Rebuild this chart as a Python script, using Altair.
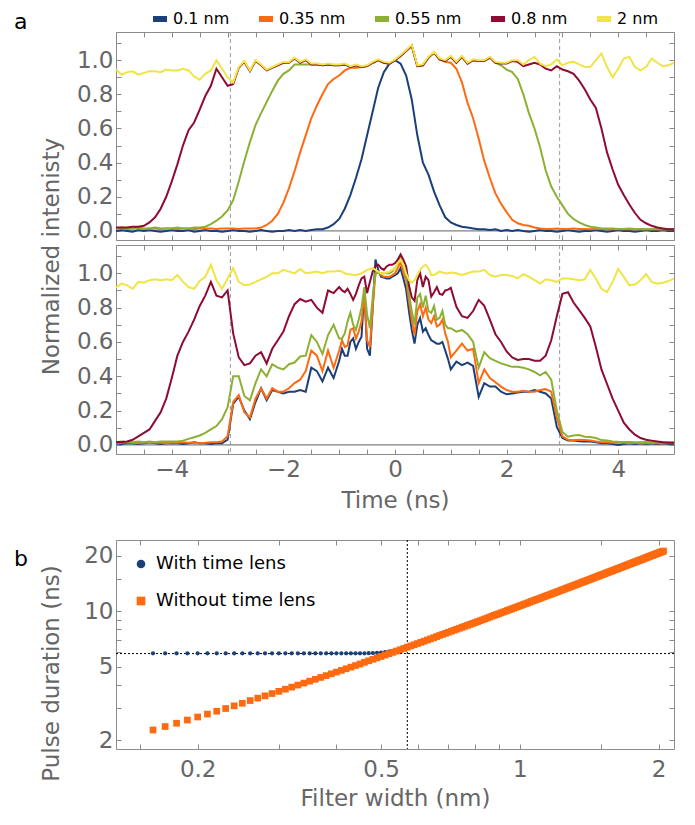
import altair as alt
import pandas as pd

FONT = "DejaVu Sans"
LABEL_COLOR = "#666666"
TICK_COLOR = "#8a8a8a"
FRAME_COLOR = "#8c8c8c"

# ---------------- panel a data ----------------
SERIES_A = ["0.1 nm", "0.35 nm", "0.55 nm", "0.8 nm", "2 nm"]
COLORS_A = ["#1b3f78", "#ff6a10", "#8cb033", "#8e0b32", "#f0e446"]

T_TOP = [round(-5 + 0.1 * i, 2) for i in range(101)]
T_MID = ([round(-5 + 0.1 * i, 2) for i in range(40)]
         + [round(-1 + 0.05 * i, 2) for i in range(41)]
         + [round(1.1 + 0.1 * i, 2) for i in range(40)])

# upper panel (101 samples)
B1 = [0.0, 0.005, 0.0, -0.005, 0.005, 0.0, 0.005, 0.0, -0.005, 0.0,
      0.005, 0.0, 0.0, 0.005, -0.005, 0.0, 0.005, 0.0, 0.0, -0.005,
      0.0, 0.005, 0.0, 0.0, -0.005, 0.0, 0.005, 0.0, -0.005, 0.0,
      0.0, 0.005, 0.0, 0.005, 0.0, 0.005, 0.01, 0.01,
      0.02, 0.04, 0.07, 0.13, 0.21, 0.31, 0.42, 0.56, 0.70, 0.84, 0.93, 0.98,
      1.0, 0.98, 0.91, 0.77, 0.56, 0.40, 0.33, 0.23, 0.15, 0.08,
      0.05, 0.035, 0.025, 0.02, 0.015, 0.01,
      0.01, 0.005, 0.01, 0.0, 0.005, 0.0, 0.005, 0.0, -0.005, 0.0,
      0.005, 0.0, 0.0, -0.005, 0.0, 0.005, 0.0, -0.005, 0.0, 0.0,
      0.005, 0.0, -0.005, 0.0, 0.005, 0.0, 0.0, -0.005, 0.0, 0.005,
      0.0, 0.0, 0.005, 0.0, 0.0]
O1 = [0.015, 0.015, 0.012, 0.015, 0.015, 0.012, 0.015, 0.015, 0.012, 0.015,
      0.015, 0.012, 0.015, 0.015, 0.012, 0.015, 0.015, 0.015, 0.012, 0.015,
      0.015, 0.015, 0.012, 0.015, 0.015, 0.015, 0.02, 0.035, 0.06, 0.1,
      0.166, 0.25, 0.35, 0.46, 0.56, 0.66, 0.735, 0.8, 0.86, 0.89,
      0.91, 0.94, 0.955, 0.955, 0.96, 0.965, 0.985, 1.0, 0.985, 0.98,
      1.0, 1.025, 1.055, 1.085, 0.965, 0.97, 1.015, 1.045, 1.005, 0.99,
      0.985, 0.95, 0.87, 0.75, 0.66, 0.54, 0.41, 0.31, 0.22, 0.16,
      0.11, 0.065, 0.045, 0.035, 0.03, 0.02, 0.015, 0.012, 0.012, 0.015,
      0.012, 0.012, 0.015, 0.012, 0.012, 0.01, 0.012, 0.012, 0.01, 0.012,
      0.01, 0.012, 0.01, 0.01, 0.012, 0.01, 0.01, 0.012, 0.01, 0.01, 0.01]
G1 = [0.015, 0.02, 0.015, 0.015, 0.02, 0.015, 0.015, 0.02, 0.015, 0.015,
      0.015, 0.02, 0.015, 0.015, 0.02, 0.02, 0.025, 0.04, 0.06, 0.085,
      0.12, 0.18, 0.29, 0.41, 0.52, 0.62, 0.69, 0.755, 0.82, 0.88,
      0.92, 0.94, 0.975, 0.975, 0.975, 0.975, 0.975, 0.97, 0.975, 0.97,
      0.97, 0.975, 0.96, 0.97, 0.96, 0.965, 0.985, 1.0, 0.985, 0.98,
      1.0, 1.025, 1.055, 1.085, 0.965, 0.97, 1.015, 1.045, 1.005, 0.995,
      1.02, 0.985, 1.02, 0.98, 1.0, 0.995, 0.995, 1.015, 0.985, 0.97,
      0.945, 0.93, 0.89, 0.8, 0.69, 0.6, 0.49, 0.355, 0.26, 0.2,
      0.15, 0.1, 0.07, 0.05, 0.035, 0.025, 0.02, 0.015, 0.015, 0.015,
      0.012, 0.012, 0.015, 0.012, 0.01, 0.012, 0.01, 0.01, 0.012, 0.01, 0.01]
R1 = [0.02, 0.02, 0.02, 0.025, 0.025, 0.03, 0.05, 0.08, 0.13, 0.2,
      0.29, 0.39, 0.5, 0.59, 0.635, 0.71, 0.79, 0.85, 0.95, 0.9,
      0.85, 0.86, 0.955, 0.99, 0.935, 0.995, 0.97, 0.94, 0.955, 0.97,
      0.985, 0.985, 1.01, 0.985, 1.0, 0.975, 0.975, 0.97, 0.975, 0.97,
      0.97, 0.975, 0.96, 0.97, 0.96, 0.965, 0.985, 1.0, 0.985, 0.98,
      1.0, 1.025, 1.055, 1.085, 0.965, 0.97, 1.015, 1.045, 1.005, 0.995,
      1.02, 0.985, 1.02, 0.98, 1.0, 0.995, 0.995, 1.015, 0.985, 0.98,
      0.98, 0.995, 0.99, 0.965, 0.975, 0.985, 0.975, 0.95, 0.94, 0.965,
      0.945, 0.935, 0.92, 0.88, 0.83, 0.77, 0.72, 0.6, 0.46, 0.36,
      0.27, 0.21, 0.155, 0.105, 0.065, 0.045, 0.03, 0.02, 0.015, 0.01, 0.01]
Y1 = [0.945, 0.915, 0.93, 0.935, 0.915, 0.925, 0.935, 0.935, 0.93, 0.945,
      0.94, 0.94, 0.95, 0.94, 0.905, 0.885, 0.92, 0.94, 1.0, 0.95,
      0.9, 0.87, 0.96, 0.995, 0.94, 1.0, 0.975, 0.945, 0.96, 0.975,
      0.99, 0.99, 1.015, 0.99, 1.005, 0.98, 0.98, 0.975, 0.98, 0.975,
      0.975, 0.98, 0.965, 0.975, 0.965, 0.97, 0.99, 1.005, 0.99, 0.985,
      1.005, 1.03, 1.06, 1.09, 0.97, 0.975, 1.02, 1.05, 1.01, 1.0,
      1.025, 0.99, 1.025, 0.985, 1.005, 1.0, 1.0, 1.02, 0.99, 0.985,
      0.985, 1.0, 1.0, 0.975, 1.0, 1.02, 0.98, 0.965, 0.975, 1.005,
      0.97, 0.985, 0.99, 0.975, 0.96, 0.96, 1.0, 1.04, 0.96, 0.9,
      0.95, 1.01, 1.02, 0.96, 0.94, 0.96, 1.01, 0.985, 0.965, 0.97, 0.985]

# lower panel (121 samples, finer in the centre)
B2 = [0.01, 0.005, 0.01, 0.01, 0.005, 0.01, 0.015, 0.01, 0.005, 0.01,
      0.01, 0.01, 0.005, 0.01, 0.015, 0.01, 0.01, 0.005, 0.01, 0.01,
      0.03, 0.24, 0.28, 0.2, 0.15, 0.25, 0.33, 0.26, 0.32, 0.31,
      0.3, 0.31, 0.31, 0.32, 0.31, 0.45, 0.43, 0.37, 0.45, 0.39,
      0.49, 0.56, 0.52, 0.52, 0.6, 0.62, 0.56, 0.6, 0.63, 0.9,
      0.56, 0.52, 0.8, 1.08, 1.02, 0.98, 0.975, 0.97, 0.97, 0.98,
      0.99, 1.0, 1.03, 0.97, 0.905, 0.78, 0.67, 0.59, 0.7, 0.74,
      0.66, 0.68, 0.64, 0.61, 0.6, 0.59, 0.59, 0.6, 0.55, 0.5, 0.44,
      0.485, 0.465, 0.48, 0.46, 0.28, 0.36, 0.34, 0.34, 0.31, 0.295,
      0.3, 0.305, 0.31, 0.31, 0.32, 0.31, 0.3, 0.27, 0.105, 0.04,
      0.026, 0.025, 0.022, 0.02, 0.02, 0.015, 0.01, 0.01, 0.005, 0.0,
      0.005, 0.01, 0.005, 0.01, 0.005, 0.01, 0.005, 0.01, 0.005, 0.005]
O2 = [0.012, 0.012, 0.015, 0.012, 0.01, 0.012, 0.015, 0.012, 0.012, 0.01,
      0.012, 0.012, 0.015, 0.012, 0.012, 0.01, 0.012, 0.015, 0.015, 0.02,
      0.05, 0.25, 0.29, 0.19, 0.16, 0.27, 0.33, 0.27, 0.33, 0.31,
      0.31, 0.33, 0.36, 0.38, 0.43, 0.55, 0.52, 0.43, 0.55, 0.45,
      0.55, 0.61, 0.57, 0.58, 0.67, 0.68, 0.62, 0.66, 0.72, 0.88,
      0.61, 0.57, 0.8, 1.0, 1.01, 0.99, 0.98, 0.98, 0.98, 0.99,
      1.0, 1.03, 1.07, 1.0, 0.96, 0.84, 0.73, 0.64, 0.78, 0.82,
      0.75, 0.8, 0.73, 0.71, 0.75, 0.69, 0.7, 0.73, 0.65, 0.6, 0.51,
      0.55, 0.59, 0.55, 0.56, 0.36, 0.44, 0.39, 0.365, 0.34, 0.32,
      0.31, 0.31, 0.315, 0.31, 0.31, 0.32, 0.325, 0.31, 0.16, 0.05,
      0.03, 0.027, 0.03, 0.028, 0.025, 0.02, 0.015, 0.015, 0.012, 0.012,
      0.012, 0.01, 0.012, 0.01, 0.01, 0.012, 0.01, 0.01, 0.01, 0.01]
G2 = [0.015, 0.02, 0.015, 0.015, 0.02, 0.015, 0.02, 0.015, 0.02, 0.02,
      0.02, 0.02, 0.025, 0.035, 0.045, 0.055, 0.07, 0.09, 0.11, 0.15,
      0.22, 0.4, 0.4, 0.285, 0.26, 0.36, 0.44, 0.4, 0.47, 0.45,
      0.44, 0.47, 0.48, 0.515, 0.52, 0.64, 0.6, 0.53, 0.64, 0.7,
      0.62, 0.62, 0.65, 0.72, 0.77, 0.7, 0.67, 0.73, 0.8, 0.92,
      0.76, 0.68, 0.86, 1.0, 1.0, 1.0, 1.0, 1.0, 1.0, 1.01,
      1.03, 1.06, 1.1, 1.04, 0.98, 0.88, 0.78, 0.7, 0.86, 0.88,
      0.8, 0.87, 0.78, 0.77, 0.81, 0.73, 0.74, 0.78, 0.7, 0.68, 0.68,
      0.66, 0.67, 0.645, 0.6, 0.45, 0.54, 0.505, 0.49, 0.475, 0.465,
      0.455, 0.455, 0.45, 0.44, 0.425, 0.405, 0.425, 0.38, 0.2, 0.075,
      0.048, 0.055, 0.058, 0.048, 0.046, 0.04, 0.028, 0.025, 0.02, 0.018,
      0.017, 0.017, 0.015, 0.015, 0.017, 0.015, 0.015, 0.015, 0.015, 0.015]
R2 = [0.017, 0.017, 0.02, 0.03, 0.05, 0.07, 0.09, 0.14, 0.19, 0.27,
      0.39, 0.52, 0.6, 0.66, 0.73, 0.81, 0.87, 0.95, 0.87, 0.86,
      0.9, 0.65, 0.51, 0.465, 0.475, 0.52, 0.54, 0.475, 0.56, 0.61,
      0.66, 0.75, 0.82, 0.85, 0.835, 0.845, 0.8, 0.77, 0.9, 0.885,
      0.92, 0.9, 0.89, 0.91, 0.88, 0.845, 0.88, 0.93, 0.97, 0.98,
      0.885, 0.95, 1.01, 1.04, 1.05, 1.03, 1.02, 1.04, 1.05, 1.05,
      1.06, 1.08, 1.11, 1.08, 1.04, 0.93, 0.86, 0.84, 0.96, 1.0,
      0.92, 0.98, 0.96, 0.865, 0.89, 0.92, 0.88, 0.875, 0.9, 0.905, 0.915,
      0.805, 0.75, 0.74, 0.78, 0.845, 0.81, 0.73, 0.645, 0.6, 0.545,
      0.51, 0.495, 0.5, 0.5, 0.49, 0.49, 0.52, 0.61, 0.75, 0.88,
      0.89, 0.83, 0.785, 0.74, 0.69, 0.57, 0.44, 0.355, 0.27, 0.2,
      0.13, 0.09, 0.06, 0.04, 0.03, 0.025, 0.02, 0.015, 0.013, 0.013]
Y2 = [0.92, 0.94, 0.93, 0.91, 0.95, 0.945, 0.96, 0.965, 0.96, 0.965,
      0.96, 0.99, 0.95, 0.92, 0.91, 0.955, 0.98, 1.05, 0.96, 0.91,
      0.97, 1.03, 0.95, 0.93, 0.935, 0.95, 0.965, 0.98, 1.0, 1.0,
      1.02, 1.01, 1.0, 1.025, 1.0, 1.005, 1.01, 1.0, 1.01, 1.01,
      1.015, 1.01, 1.0, 0.995, 0.995, 0.99, 0.99, 0.995, 1.0, 1.01,
      1.02, 1.025, 1.03, 1.02, 1.01, 1.0, 1.0, 1.005, 1.01, 1.02,
      1.03, 1.06, 1.08, 1.05, 1.0, 0.96, 0.945, 0.96, 0.99, 1.02,
      1.04, 1.05, 1.03, 0.99, 0.99, 1.0, 1.01, 1.005, 1.0, 1.0, 1.005,
      1.0, 0.99, 1.0, 1.01, 1.01, 1.02, 0.99, 0.98, 0.99, 0.99,
      0.985, 0.97, 0.995, 0.98, 0.96, 0.94, 0.965, 0.96, 0.95, 0.97,
      0.97, 0.965, 0.96, 0.965, 1.02, 0.97, 0.91, 0.89, 0.95, 1.025,
      0.98, 0.93, 0.935, 0.96, 0.995, 0.95, 0.94, 0.945, 0.955, 0.97]

DASH_T = [-2.95, 2.95]

# ---------------- panel b data ----------------
KINDS = ["With time lens", "Without time lens"]
COLORS_B = ["#1b3f78", "#ff6a10"]
W_NM = [round(0.16 + 0.01 * i, 2) for i in range(190)]
D_WITHOUT = [
    2.27, 2.37, 2.47, 2.57, 2.67, 2.77, 2.87, 2.97, 3.07, 3.17,
    3.28, 3.38, 3.48, 3.58, 3.68, 3.78, 3.88, 3.98, 4.08, 4.18,
    4.28, 4.38, 4.48, 4.58, 4.68, 4.78, 4.88, 4.98, 5.08, 5.18,
    5.29, 5.39, 5.49, 5.59, 5.69, 5.79, 5.89, 5.99, 6.09, 6.19,
    6.29, 6.39, 6.49, 6.59, 6.69, 6.79, 6.89, 6.99, 7.09, 7.19,
    7.30, 7.40, 7.50, 7.60, 7.70, 7.80, 7.90, 8.00, 8.10, 8.20,
    8.30, 8.40, 8.50, 8.60, 8.70, 8.80, 8.90, 9.00, 9.10, 9.20,
    9.31, 9.41, 9.51, 9.61, 9.71, 9.81, 9.91, 10.01, 10.11, 10.21,
    10.31, 10.41, 10.51, 10.61, 10.71, 10.81, 10.91, 11.01, 11.11, 11.21,
    11.32, 11.42, 11.52, 11.62, 11.72, 11.82, 11.92, 12.02, 12.12, 12.22,
    12.32, 12.42, 12.52, 12.62, 12.72, 12.82, 12.92, 13.02, 13.12, 13.22,
    13.33, 13.43, 13.53, 13.63, 13.73, 13.83, 13.93, 14.03, 14.13, 14.23,
    14.33, 14.43, 14.53, 14.63, 14.73, 14.83, 14.93, 15.03, 15.13, 15.23,
    15.34, 15.44, 15.54, 15.64, 15.74, 15.84, 15.94, 16.04, 16.14, 16.24,
    16.34, 16.44, 16.54, 16.64, 16.74, 16.84, 16.94, 17.04, 17.14, 17.24,
    17.35, 17.45, 17.55, 17.65, 17.75, 17.85, 17.95, 18.05, 18.15, 18.25,
    18.35, 18.45, 18.55, 18.65, 18.75, 18.85, 18.95, 19.05, 19.15, 19.25,
    19.36, 19.46, 19.56, 19.66, 19.76, 19.86, 19.96, 20.06, 20.16, 20.26,
    20.36, 20.46, 20.56, 20.66, 20.76, 20.86, 20.96, 21.06, 21.16, 21.26]
D_WITH = [5.92] * 31 + [5.93, 5.94, 5.96, 5.98, 6.01, 6.05, 6.1, 6.16, 6.24, 6.32, 6.41, 6.5]
REF_W = [0.57]
REF_D = [5.9]

for arr in (B1, O1, G1, R1, Y1):
    assert len(arr) == len(T_TOP), len(arr)
for arr in (B2, O2, G2, R2, Y2):
    assert len(arr) == len(T_MID), len(arr)
assert len(D_WITHOUT) == len(W_NM)

# ---------------- tables ----------------
def long_table(ts, series_vals):
    rows = []
    for name, vals in zip(SERIES_A, series_vals):
        for t, v in zip(ts, vals):
            rows.append({"t": t, "v": v, "series": name})
    return pd.DataFrame(rows)

df_top = long_table(T_TOP, [B1, O1, G1, R1, Y1])
df_mid = long_table(T_MID, [B2, O2, G2, R2, Y2])
df_with = pd.DataFrame({"w": W_NM[:len(D_WITH)], "d": D_WITH, "kind": KINDS[0]})
df_without = pd.DataFrame({"w": W_NM, "d": D_WITHOUT, "kind": KINDS[1]})
df_b = pd.concat([df_with, df_without], ignore_index=True)

# ---------------- axis helper ----------------
XT = [-5 + 0.5 * i for i in range(21)]
YT = [round(0.1 * i, 1) for i in range(12)]
XB = [0.15, 0.2, 0.3, 0.4, 0.5, 0.6, 0.7, 0.8, 0.9, 1, 1.5, 2]
YB = [2, 3, 4, 5, 6, 7, 8, 9, 10, 15, 20]
EXPR_XT = "abs(datum.value) % 2 == 0 ? format(datum.value, 'd') : ''"
EXPR_YT = "(abs(round(datum.value * 10)) % 2 == 0 && datum.value < 1.05) ? format(datum.value, '.1f') : ''"
EXPR_XB = "indexof([0.2, 0.5, 1, 2], datum.value) >= 0 ? format(datum.value, '~g') : ''"
EXPR_YB = "indexof([2, 5, 10, 20], datum.value) >= 0 ? format(datum.value, '~g') : ''"


def ax(orient, values, expr=None, labels=True, title=None, pad=3, **extra):
    d = dict(orient=orient, values=values, domain=False, grid=False, ticks=True,
             tickSize=5, tickColor=TICK_COLOR, tickWidth=1, offset=-5,
             labels=labels, labelFlush=False, labelFont=FONT, labelFontSize=23,
             labelColor=LABEL_COLOR, labelPadding=pad, title=title,
             titleFont=FONT, titleFontSize=23, titleColor=LABEL_COLOR,
             titleFontWeight="normal")
    if expr:
        d["labelExpr"] = expr
    d.update(extra)
    return alt.Axis(**d)


xs_a = alt.Scale(domain=[-5, 5], nice=False, zero=False)
ys_a = alt.Scale(domain=[-0.053, 1.165], nice=False, zero=False)
color_a = alt.Scale(domain=SERIES_A, range=COLORS_A)

legend_a = alt.Legend(orient="none", legendX=34, legendY=-23, direction="horizontal",
                      title=None, symbolType="stroke", symbolStrokeWidth=6, symbolSize=196,
                      labelFont=FONT, labelFontSize=16, labelColor="black", labelOffset=3,
                      columnPadding=17, gridAlign="none", symbolOpacity=1)


def panel_a(df, bottom_labels, y_title, legend, title=None, height=208):
    rules = alt.Chart(pd.DataFrame({"tx": DASH_T})).mark_rule(
        color="#9a9a9a", strokeDash=[4, 3], strokeWidth=1).encode(
        x=alt.X("tx:Q", scale=xs_a, axis=ax("top", XT, labels=False)))
    zero = alt.Chart(pd.DataFrame({"z": [0.0]})).mark_rule(
        color="#808080", strokeWidth=1.2).encode(
        y=alt.Y("z:Q", scale=ys_a, axis=ax("right", YT, labels=False)))
    if bottom_labels:
        xaxis = ax("bottom", XT, EXPR_XT, title="Time (ns)", pad=4, titlePadding=8)
    else:
        xaxis = ax("bottom", XT, labels=False)
    if y_title:
        yaxis = ax("left", YT, EXPR_YT, title=y_title, titleX=-58, titleY=224,
                   titleBaseline="bottom")
    else:
        yaxis = ax("left", YT, EXPR_YT)
    lines = alt.Chart(df).mark_line(strokeWidth=2).encode(
        x=alt.X("t:Q", scale=xs_a, axis=xaxis),
        y=alt.Y("v:Q", scale=ys_a, axis=yaxis),
        color=alt.Color("series:N", scale=color_a, legend=legend),
    )
    props = dict(width=558, height=height)
    if title is not None:
        props["title"] = title
    return alt.layer(rules, zero, lines).properties(**props)


title_a = alt.TitleParams(text="a", anchor="start", frame="group", dx=-102, dy=28.5,
                          fontSize=22, font=FONT, fontWeight="normal", color="black")
top = panel_a(df_top, False, "Normalized intenisty", legend_a, title=title_a, height=208)
mid = panel_a(df_mid, True, None, None, height=209)

spacer = alt.Chart(pd.DataFrame({"s": [0]})).mark_point(opacity=0).encode(
    x=alt.X("s:Q", axis=None), y=alt.Y("s:Q", axis=None)).properties(
    width=558, height=76, view=alt.ViewBackground(stroke="transparent"))

# ---------------- panel b ----------------
xs_b = alt.Scale(type="log", domain=[0.133, 2.16], nice=False)
ys_b = alt.Scale(type="log", domain=[1.79, 24.4], nice=False)

legend_b = alt.Legend(orient="none", legendX=16, legendY=15, direction="vertical", title=None,
                      labelFont=FONT, labelFontSize=18, labelColor="black", symbolSize=75,
                      labelOffset=6, rowPadding=19, symbolStrokeWidth=0, symbolOpacity=1)

xb_enc = alt.X("w:Q", scale=xs_b,
               axis=ax("bottom", XB, EXPR_XB, title="Filter width (nm)", pad=9, titlePadding=6))
yb_enc = alt.Y("d:Q", scale=ys_b,
               axis=ax("left", YB, EXPR_YB, title="Pulse duration (ns)", titleX=-58, titleY=133,
                       titleBaseline="bottom"))

vline_b = alt.Chart(pd.DataFrame({"wx": REF_W})).mark_rule(
    color="black", strokeDash=[2, 2], strokeWidth=1).encode(
    x=alt.X("wx:Q", scale=xs_b, axis=ax("top", XB, labels=False)))
hline_b = alt.Chart(pd.DataFrame({"dy": REF_D})).mark_rule(
    color="black", strokeDash=[2, 2], strokeWidth=1).encode(
    y=alt.Y("dy:Q", scale=ys_b, axis=ax("right", YB, labels=False)))
# invisible copy of the data, only to carry the legend (size 75 symbols)
legend_layer = alt.Chart(df_b).mark_point(filled=True, opacity=0, size=75).encode(
    x=xb_enc, y=yb_enc,
    color=alt.Color("kind:N", scale=alt.Scale(domain=KINDS, range=COLORS_B), legend=legend_b),
    shape=alt.Shape("kind:N", scale=alt.Scale(domain=KINDS, range=["circle", "square"]),
                    legend=legend_b),
)
with_layer = alt.Chart(df_with).mark_point(
    filled=True, opacity=1, strokeWidth=0, shape="circle", size=18, color=COLORS_B[0]).encode(
    x=alt.X("w:Q", scale=xs_b, axis=None), y=alt.Y("d:Q", scale=ys_b, axis=None))
without_layer = alt.Chart(df_without).mark_point(
    filled=True, opacity=1, strokeWidth=0, shape="square", size=45, color=COLORS_B[1]).encode(
    x=alt.X("w:Q", scale=xs_b, axis=None), y=alt.Y("d:Q", scale=ys_b, axis=None))

title_b = alt.TitleParams(text="b", anchor="start", frame="group", dx=-102, dy=35.5,
                          fontSize=22, font=FONT, fontWeight="normal", color="black")
bottom = alt.layer(vline_b, hline_b, legend_layer, with_layer, without_layer).properties(
    width=558, height=209, title=title_b)

chart = alt.vconcat(top, mid, spacer, bottom, spacing=5, bounds="flush").resolve_scale(
    color="independent", shape="independent"
).configure_view(stroke=FRAME_COLOR, strokeWidth=1).properties(
    padding={"left": 5, "top": 0, "right": 5, "bottom": 5})

chart.save("out.html", embed_options={"renderer": "svg", "actions": False})
